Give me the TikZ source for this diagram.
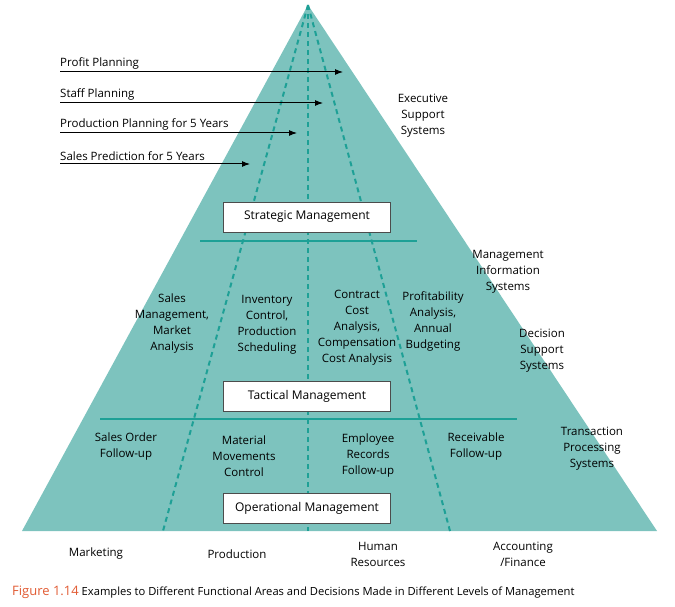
\documentclass[tikz,border=0pt]{standalone}
\usepackage{fontspec}
\setmainfont{Open Sans}
\usetikzlibrary{arrows.meta}
\definecolor{tri}{RGB}{125,195,190}
\definecolor{dk}{RGB}{30,160,150}
\definecolor{fig}{RGB}{225,90,50}
\begin{document}
\begin{tikzpicture}[x=1pt,y=-1pt,
  lbl/.style={font=\fontsize{11.5}{16}\selectfont,align=center,inner sep=1pt},
  box/.style={draw=black!70,fill=white,minimum width=167pt,minimum height=30pt,font=\fontsize{12}{14}\selectfont},
  dsh/.style={draw=dk,line width=2pt,dash pattern=on 5pt off 4pt},
  sol/.style={draw=dk,line width=2pt},
  arr/.style={-{Latex[length=8pt,width=6pt]},line width=1pt}]
\useasboundingbox (0,0) rectangle (675,607);
\coordinate (A) at (308,5);
\coordinate (L) at (22,531);
\coordinate (R) at (657,531);
\fill[tri] (A)--(L)--(R)--cycle;
\coordinate (b1) at (163,531); \coordinate (b2) at (308,531); \coordinate (b3) at (450,531);
\draw[dsh] (A)--(b1); \draw[dsh] (A)--(b2); \draw[dsh] (A)--(b3);
\coordinate (h1a) at (200,241); \coordinate (h1b) at (417,241);
\coordinate (h2a) at (100,419); \coordinate (h2b) at (517,419);
\draw[sol] (h1a)--(h1b); \draw[sol] (h2a)--(h2b);
\node[box] (sm) at (307,217) {Strategic Management};
\node[box] (tm) at (307,396) {Tactical Management};
\node[box] (om) at (307,508) {Operational Management};
\foreach \n/\t/\y/\e in {p/Profit Planning/72/343,s/Staff Planning/103/323,pp/Production Planning for 5 Years/133/297,sp/Sales Prediction for 5 Years/164/250}{
  \coordinate (\n s) at (60,\y); \coordinate (\n e) at (\e,\y);
  \draw[arr] (\n s)--(\n e);
  \node[lbl,anchor=south west] (\n l) at (59,\y-2) {\t};
}
\node[lbl] (ess) at (423,116) {Executive\\Support\\Systems};
\node[lbl] (mis) at (508,272) {Management\\Information\\Systems};
\node[lbl] (dss) at (542,351) {Decision\\Support\\Systems};
\node[lbl] (tps) at (592,449) {Transaction\\Processing\\Systems};
\node[lbl] (t1) at (172,324) {Sales\\Management,\\Market\\Analysis};
\node[lbl] (t2) at (267,325) {Inventory\\Control,\\Production\\Scheduling};
\node[lbl] (t3) at (357,328) {Contract\\Cost\\Analysis,\\Compensation\\Cost Analysis};
\node[lbl] (t4) at (433,321) {Profitability\\Analysis,\\Annual\\Budgeting};
\node[lbl] (o1) at (126,447) {Sales Order\\Follow-up};
\node[lbl] (o2) at (244,456) {Material\\Movements\\Control};
\node[lbl] (o3) at (368,456) {Employee\\Records\\Follow-up};
\node[lbl] (o4) at (476,447) {Receivable\\Follow-up};
\node[lbl] (f1) at (96,554) {Marketing};
\node[lbl] (f2) at (237,554) {Production};
\node[lbl] (f3) at (378,554) {Human\\Resources};
\node[lbl] (f4) at (523,554) {Accounting\\/Finance};
\node[anchor=west,inner sep=0,font=\fontsize{11.2}{12}\selectfont] (cap) at (12,592) {{\color{fig}\fontsize{13}{13}\selectfont Figure 1.14} Examples to Different Functional Areas and Decisions Made in Different Levels of Management};
\end{tikzpicture}
\end{document}
